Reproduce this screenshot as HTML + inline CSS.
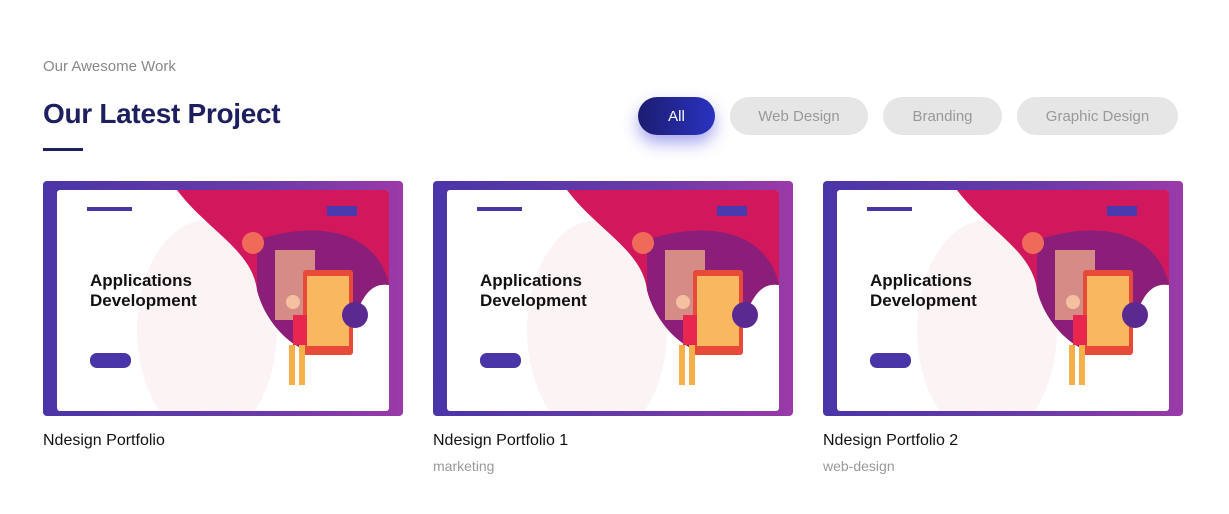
<!DOCTYPE html>
<html><head><style>
body{margin:0;width:1229px;height:514px;background:#fff;font-family:"Liberation Sans",sans-serif;position:relative;overflow:hidden}
.a{position:absolute}
.btn{position:absolute;top:97px;height:38px;border-radius:19px;background:#e6e6e6;color:#999;font-size:15px;display:flex;align-items:center;justify-content:center}
.card{position:absolute;top:181px;width:360px;height:235px;border-radius:4px;background:linear-gradient(90deg,#4a35a8,#6a3aa8 60%,#9a3aa8);overflow:hidden}
.in{position:absolute;left:14px;top:9px;width:332px;height:221px;background:#fff;border-radius:3px;overflow:hidden}
.t{position:absolute;top:432px;font-size:16px;color:#111}
.s{position:absolute;top:458px;font-size:14px;color:#999}
</style></head><body>
<div class="a" style="left:43px;top:58px;font-size:15px;color:#888">Our Awesome Work</div>
<div class="a" style="left:43px;top:98px;font-size:28px;font-weight:bold;color:#1d1f5e;letter-spacing:-0.3px">Our Latest Project</div>
<div class="a" style="left:43px;top:148px;width:40px;height:3px;background:#1d1f5e"></div>
<div class="btn" style="left:638px;width:77px;background:linear-gradient(90deg,#1c1c70,#2a33c0);color:#fff;box-shadow:0 8px 16px rgba(60,60,220,.45)">All</div>
<div class="btn" style="left:730px;width:138px">Web Design</div>
<div class="btn" style="left:883px;width:119px">Branding</div>
<div class="btn" style="left:1017px;width:161px">Graphic Design</div>

<div class="card" style="left:43px"><div class="in">
<svg width="332" height="221" class="a" style="left:0;top:0">
<ellipse cx="150" cy="140" rx="70" ry="110" fill="#fcf3f5"/>
<path d="M120 0 H332 V95 C300 90 300 140 280 160 C250 175 210 140 200 100 C195 60 150 40 120 0Z" fill="#d2185c"/>
<path d="M200 50 C260 30 320 40 332 95 C300 90 300 140 280 160 C250 175 210 140 200 100Z" fill="#8a1e78"/>
<circle cx="196" cy="53" r="11" fill="#f06a5a"/>
<rect x="218" y="60" width="40" height="70" fill="#e9a88a" opacity=".8"/>
<rect x="246" y="80" width="50" height="85" rx="3" fill="#e84a3a"/>
<rect x="250" y="86" width="42" height="70" fill="#f9b860"/>
<circle cx="298" cy="125" r="13" fill="#5a2a90"/>
<rect x="236" y="125" width="14" height="30" fill="#e8264e"/>
<rect x="232" y="155" width="6" height="40" fill="#f5b04a"/><rect x="242" y="155" width="6" height="40" fill="#f5b04a"/>
<circle cx="236" cy="112" r="7" fill="#f5c0a0"/>
<rect x="30" y="17" width="45" height="4" fill="#4a35a8"/>
<rect x="270" y="16" width="30" height="10" fill="#4a3ab0"/>
<rect x="33" y="163" width="41" height="15" rx="7" fill="#4a35a8"/>
</svg>
<div class="a" style="left:33px;top:81px;font-size:17px;font-weight:bold;line-height:20px;color:#111">Applications<br>Development</div>
</div></div>
<div class="card" style="left:433px"><div class="in">
<svg width="332" height="221" class="a" style="left:0;top:0">
<ellipse cx="150" cy="140" rx="70" ry="110" fill="#fcf3f5"/>
<path d="M120 0 H332 V95 C300 90 300 140 280 160 C250 175 210 140 200 100 C195 60 150 40 120 0Z" fill="#d2185c"/>
<path d="M200 50 C260 30 320 40 332 95 C300 90 300 140 280 160 C250 175 210 140 200 100Z" fill="#8a1e78"/>
<circle cx="196" cy="53" r="11" fill="#f06a5a"/>
<rect x="218" y="60" width="40" height="70" fill="#e9a88a" opacity=".8"/>
<rect x="246" y="80" width="50" height="85" rx="3" fill="#e84a3a"/>
<rect x="250" y="86" width="42" height="70" fill="#f9b860"/>
<circle cx="298" cy="125" r="13" fill="#5a2a90"/>
<rect x="236" y="125" width="14" height="30" fill="#e8264e"/>
<rect x="232" y="155" width="6" height="40" fill="#f5b04a"/><rect x="242" y="155" width="6" height="40" fill="#f5b04a"/>
<circle cx="236" cy="112" r="7" fill="#f5c0a0"/>
<rect x="30" y="17" width="45" height="4" fill="#4a35a8"/>
<rect x="270" y="16" width="30" height="10" fill="#4a3ab0"/>
<rect x="33" y="163" width="41" height="15" rx="7" fill="#4a35a8"/>
</svg>
<div class="a" style="left:33px;top:81px;font-size:17px;font-weight:bold;line-height:20px;color:#111">Applications<br>Development</div>
</div></div>
<div class="card" style="left:823px"><div class="in">
<svg width="332" height="221" class="a" style="left:0;top:0">
<ellipse cx="150" cy="140" rx="70" ry="110" fill="#fcf3f5"/>
<path d="M120 0 H332 V95 C300 90 300 140 280 160 C250 175 210 140 200 100 C195 60 150 40 120 0Z" fill="#d2185c"/>
<path d="M200 50 C260 30 320 40 332 95 C300 90 300 140 280 160 C250 175 210 140 200 100Z" fill="#8a1e78"/>
<circle cx="196" cy="53" r="11" fill="#f06a5a"/>
<rect x="218" y="60" width="40" height="70" fill="#e9a88a" opacity=".8"/>
<rect x="246" y="80" width="50" height="85" rx="3" fill="#e84a3a"/>
<rect x="250" y="86" width="42" height="70" fill="#f9b860"/>
<circle cx="298" cy="125" r="13" fill="#5a2a90"/>
<rect x="236" y="125" width="14" height="30" fill="#e8264e"/>
<rect x="232" y="155" width="6" height="40" fill="#f5b04a"/><rect x="242" y="155" width="6" height="40" fill="#f5b04a"/>
<circle cx="236" cy="112" r="7" fill="#f5c0a0"/>
<rect x="30" y="17" width="45" height="4" fill="#4a35a8"/>
<rect x="270" y="16" width="30" height="10" fill="#4a3ab0"/>
<rect x="33" y="163" width="41" height="15" rx="7" fill="#4a35a8"/>
</svg>
<div class="a" style="left:33px;top:81px;font-size:17px;font-weight:bold;line-height:20px;color:#111">Applications<br>Development</div>
</div></div>

<div class="t" style="left:43px">Ndesign Portfolio</div>
<div class="t" style="left:433px">Ndesign Portfolio 1</div>
<div class="s" style="left:433px">marketing</div>
<div class="t" style="left:823px">Ndesign Portfolio 2</div>
<div class="s" style="left:823px">web-design</div>
</body></html>
